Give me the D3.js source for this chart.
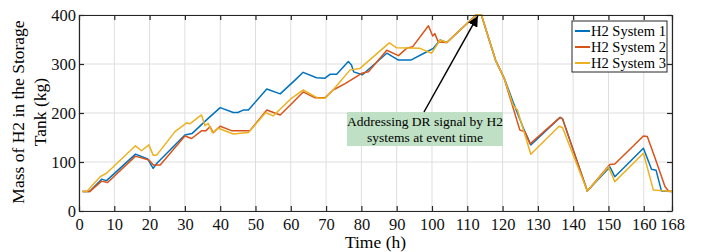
<!DOCTYPE html>
<html lang="en">
<head>
<meta charset="UTF-8" />
<title>H2 storage mass</title>
<script src="https://d3js.org/d3.v7.min.js"></script>
<style>
  body { margin: 0; background: #fff; }
  svg { font-family: "Liberation Serif", "Times New Roman", serif; }
</style>
</head>
<body>
<svg id="svg" width="710" height="252"></svg>
<script>
// data (hour, kg) for each system
const sys1Hours = [1, 3, 6.4, 7.8, 16, 19.5, 21, 22, 30, 32, 36.6, 40, 43.7, 45, 46.5, 48, 53.2, 57, 61.2, 63.5, 67.3, 69.7, 71.1, 73, 76.3, 77.2, 77.8, 80.3, 87.2, 90.5, 94, 98, 100.4, 102.3, 104.2, 112.5, 114, 118, 120.7, 123, 125.9, 128, 136.3, 137, 144, 150.4, 151.8, 159.9, 162.2, 163.5, 165, 168];
const sys1Mass = [40, 40, 65, 62, 116, 106, 87, 97, 155, 158, 189, 211, 201, 201, 206, 206, 249, 239, 267, 283, 272, 271, 279, 279, 305, 298, 284, 278, 322, 308, 308, 323, 332, 349, 344, 400, 400, 308, 267, 222, 169, 135, 191, 188, 41, 90, 70, 128, 85, 83, 41, 40];

const sys2Hours = [1, 3.1, 6.4, 8.1, 16, 19.8, 21.1, 23, 30, 31.9, 34.8, 36, 37.1, 38, 40, 43.2, 48.4, 53.2, 57, 61.2, 63.5, 66.9, 69.7, 72, 75.4, 80.1, 82, 87.2, 90.5, 92.8, 94.5, 99, 100.2, 100.8, 101.8, 104.2, 112.5, 114, 118, 120.4, 124.9, 126.3, 127.8, 136.3, 137, 144, 150.4, 151.8, 159.9, 161, 163.2, 166, 167, 168];
const sys2Mass = [40, 40, 61, 58, 112, 104, 94, 94, 153, 148, 164, 164, 172, 160, 173, 164, 164, 206, 196, 226, 243, 231, 231, 247, 260, 281, 284, 328, 317, 332, 335, 378, 357, 362, 345, 344, 400, 400, 308, 272, 165, 162, 137, 191, 188, 41, 95, 96, 153, 152, 108, 50, 41, 40];

const sys3Hours = [1, 2.2, 6, 7.8, 16, 17.7, 19.8, 21, 22, 27.2, 30.5, 31.4, 34.7, 35.7, 36.6, 37.8, 39.5, 43.7, 48, 52.9, 55, 60.2, 63.5, 67.8, 69.7, 72, 76.8, 79.6, 87.9, 90, 96.6, 99.9, 102.3, 104.2, 112.5, 114, 118, 120.5, 123, 124.2, 128, 136, 137, 144, 150, 151.8, 159.9, 162.7, 168];
const sys3Mass = [40, 40, 70, 77, 133, 123, 135, 114, 114, 162, 180, 178, 196, 174, 179, 160, 169, 157, 160, 201, 194, 230, 247, 230, 230, 247, 288, 291, 343, 333, 332, 322, 349, 344, 400, 400, 308, 270, 216, 206, 116, 173, 170, 41, 90, 60, 118, 43, 40];

const seriesNames = ["H2 System 1", "H2 System 2", "H2 System 3"];
const xTicks = [0, 10, 20, 30, 40, 50, 60, 70, 80, 90, 100, 110, 120, 130, 140, 150, 160, 168];
const yTicks = [0, 100, 200, 300, 400];

const colors = ["#0072BD", "#D95319", "#EDB120"];
const series = [
  sys1Hours.map((h, i) => [h, sys1Mass[i]]),
  sys2Hours.map((h, i) => [h, sys2Mass[i]]),
  sys3Hours.map((h, i) => [h, sys3Mass[i]])
];

const svg = d3.select("#svg");
const mLeft = 79, mRight = 672, mTop = 15, mBottom = 211;

const x = d3.scaleLinear().domain([0, 168]).range([mLeft, mRight]);
const y = d3.scaleLinear().domain([0, 400]).range([mBottom, mTop]);

// grid
const grid = svg.append("g").attr("stroke", "#dedede").attr("stroke-width", 1);
grid.selectAll(".gx").data(xTicks).enter().append("line")
  .attr("x1", d => x(d)).attr("x2", d => x(d))
  .attr("y1", mTop).attr("y2", mBottom);
grid.selectAll(".gy").data(yTicks).enter().append("line")
  .attr("x1", mLeft).attr("x2", mRight)
  .attr("y1", d => y(d)).attr("y2", d => y(d));

// lines
const line = d3.line().x(d => x(d[0])).y(d => y(d[1]));
svg.append("g").selectAll("path").data(series).enter().append("path")
  .attr("d", line)
  .attr("fill", "none")
  .attr("stroke", (d, i) => colors[i])
  .attr("stroke-width", 1.5)
  .attr("stroke-linejoin", "round");

// axes (box, ticks inward)
const axisColor = "#262626";
const gb = svg.append("g").attr("transform", `translate(0,${mBottom})`)
  .call(d3.axisBottom(x).tickValues(xTicks).tickSizeInner(-5).tickSizeOuter(0).tickPadding(7));
const gt = svg.append("g").attr("transform", `translate(0,${mTop})`)
  .call(d3.axisTop(x).tickValues(xTicks).tickSizeInner(-5).tickSizeOuter(0).tickFormat(""));
const gl = svg.append("g").attr("transform", `translate(${mLeft},0)`)
  .call(d3.axisLeft(y).tickValues(yTicks).tickSizeInner(-5).tickSizeOuter(0).tickPadding(3));
const gr = svg.append("g").attr("transform", `translate(${mRight},0)`)
  .call(d3.axisRight(y).tickValues(yTicks).tickSizeInner(-5).tickSizeOuter(0).tickFormat(""));
[gb, gt, gl, gr].forEach(g => {
  g.select(".domain").attr("stroke", axisColor).attr("stroke-width", 1.2);
  g.selectAll(".tick line").attr("stroke", axisColor).attr("stroke-width", 1.2);
  g.selectAll("text").attr("fill", "#111").style("font-size", "16.5px")
    .style("font-family", "'Liberation Serif', serif");
});

// axis titles
svg.append("text").attr("x", (mLeft + mRight) / 2).attr("y", 248)
  .attr("text-anchor", "middle").style("font-size", "17.5px").text("Time (h)");
const yl = svg.append("text").attr("transform", `translate(24,112) rotate(-90)`)
  .attr("text-anchor", "middle").style("font-size", "17.5px");
yl.append("tspan").attr("x", 0).attr("dy", 0).text("Mass of H2 in the Storage");
yl.append("tspan").attr("x", 0).attr("dy", 22).text("Tank (kg)");

// annotation
svg.append("rect").attr("x", 347).attr("y", 112).attr("width", 156).attr("height", 34)
  .attr("fill", "#bfe0c4");
svg.append("text").attr("x", 425).attr("y", 126).attr("text-anchor", "middle")
  .style("font-size", "13.5px").text("Addressing DR signal by H2");
svg.append("text").attr("x", 425).attr("y", 142).attr("text-anchor", "middle")
  .style("font-size", "13.5px").text("systems at event time");

svg.append("defs").append("marker").attr("id", "arr")
  .attr("viewBox", "0 0 10 10").attr("refX", 10).attr("refY", 5)
  .attr("markerWidth", 7).attr("markerHeight", 7).attr("orient", "auto")
  .append("path").attr("d", "M0,0 L10,5 L0,10 z").attr("fill", "#000");
svg.append("line").attr("x1", 424).attr("y1", 112).attr("x2", x(113)).attr("y2", y(398))
  .attr("stroke", "#000").attr("stroke-width", 1.5).attr("marker-end", "url(#arr)");

// legend
const lg = svg.append("g");
lg.append("rect").attr("x", 572).attr("y", 21).attr("width", 95).attr("height", 51)
  .attr("fill", "#fff").attr("stroke", "#262626").attr("stroke-width", 1);
seriesNames.forEach((n, i) => {
  const yy = 31 + i * 16;
  lg.append("line").attr("x1", 575).attr("x2", 590).attr("y1", yy).attr("y2", yy)
    .attr("stroke", colors[i]).attr("stroke-width", 2);
  lg.append("text").attr("x", 591).attr("y", yy).attr("dy", "0.35em")
    .style("font-size", "14.5px").text(n);
});
</script>
</body>
</html>
